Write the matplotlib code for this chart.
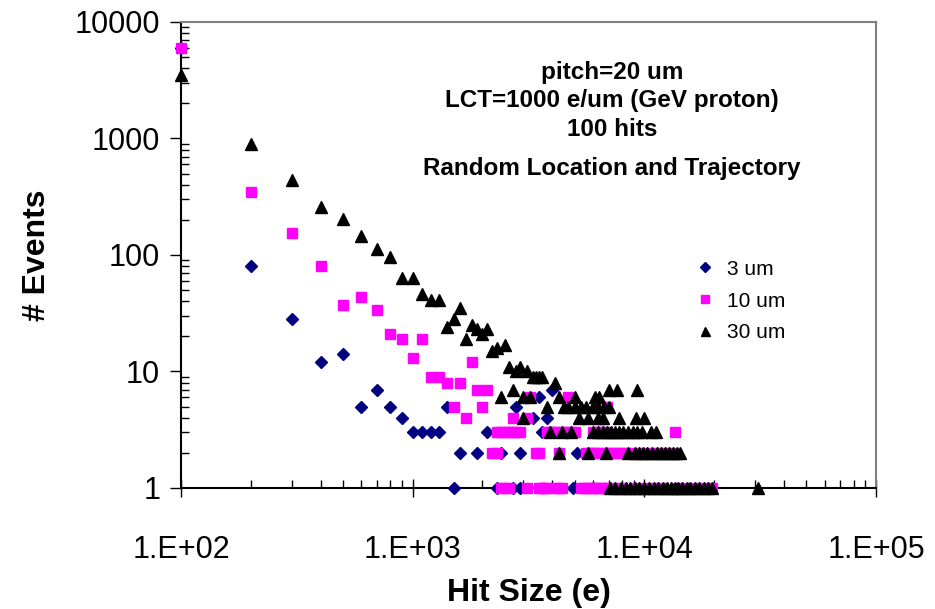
import matplotlib
matplotlib.use("Agg")
import matplotlib.pyplot as plt
from matplotlib.ticker import FixedLocator, LogLocator, NullFormatter

plt.rcParams['font.family'] = ['Liberation Sans', 'DejaVu Sans']

# 3 um pixel size (diamonds)
x_3um = [100, 200, 300, 400, 500, 600, 700, 800, 900, 1000, 1100, 1200, 1300,
         1400, 1500, 1600, 1900, 2100, 2300, 2400, 2700, 2800, 2900, 2900,
         3300, 3500, 3600, 3800, 4000, 4900, 5100]
y_3um = [6000, 80, 28, 12, 14, 5, 7, 5, 4, 3, 3, 3, 3,
         5, 1, 2, 2, 3, 1, 2, 1, 5, 2, 1,
         4, 6, 3, 4, 7, 1, 2]

# 10 um pixel size (squares)
x_10um = [100, 200, 300, 400, 500, 600, 700, 800, 900, 1000, 1100, 1200, 1300,
          1400, 1500, 1600, 1700, 1800, 1900, 2000, 2100, 2700, 3100, 3200, 4700, 6900,
          # count = 3
          2300, 2400, 2500, 2600, 2700, 2800, 2900,
          3800, 3900, 4000, 4200, 4400, 4600, 4800, 5000,
          6000, 6300, 6600, 6900, 13500,
          # count = 2
          2200, 2300, 3400, 3500, 4300, 5600, 5800, 6000, 6200, 6500, 6800,
          7100, 7400, 7700, 8000, 8300, 9000, 10000, 11000, 12000, 13000,
          # count = 1
          2400, 2500, 2600, 3100, 3500, 3600, 3700, 3800, 4100, 4300, 4400,
          5300, 5500, 5700, 5900, 6100, 6300, 6500, 6800, 7000, 7300, 8000,
          9000, 10000, 11000, 12000, 13500, 15000, 16500, 18000, 19500]
y_10um = [6000, 350, 155, 80, 37, 44, 34, 21, 19, 13, 19, 9, 9,
          8, 5, 8, 4, 12, 7, 5, 7, 4, 4, 6, 6, 5,
          3, 3, 3, 3, 3, 3, 3,
          3, 3, 3, 3, 3, 3, 3, 3,
          3, 3, 3, 3, 3,
          2, 2, 2, 2, 2, 2, 2, 2, 2, 2, 2,
          2, 2, 2, 2, 2, 2, 2, 2, 2, 2,
          1, 1, 1, 1, 1, 1, 1, 1, 1, 1, 1,
          1, 1, 1, 1, 1, 1, 1, 1, 1, 1, 1,
          1, 1, 1, 1, 1, 1, 1, 1, 1]

# 30 um pixel size (triangles)
x_30um = [100, 200, 300, 400, 500, 600, 700, 800, 900, 1000, 1100, 1200, 1300,
          1400, 1500, 1600, 1700, 1800, 1900, 2000, 2100, 2200, 2300, 2500,
          2600, 2900, 2800, 3100, 3300, 3400, 3500, 3600, 4100,
          2700, 7000, 7600, 9300,
          2400, 3000, 3200, 4300, 5000, 6100, 6400,
          3800, 4500, 4700, 5000, 5300, 5600, 6000, 6300, 6700, 7000,
          3000, 5200, 5700, 6300, 6600, 7800, 9200, 10000,
          3900, 4400, 4800, 6000, 6300, 6600, 6900, 7200, 7500, 7800, 8100,
          8500, 8900, 9300, 9800, 10700, 11200,
          4300, 5700, 6800, 8500, 9100, 9500, 9900, 10300, 10800, 11300, 11800,
          12300, 12800, 13300, 13800, 14300,
          7100, 7500, 7900, 8300, 8700, 9100, 9500, 10000, 10500, 11000, 11500,
          12000, 12500, 13000, 13500, 14000, 14600, 15200, 15800, 16500, 17200,
          18000, 18800, 19500, 31000]
y_30um = [3500, 900, 440, 260, 205, 146, 112, 96, 64, 63, 46, 41, 41,
          24, 28, 35, 19, 25, 23, 21, 23, 15, 16, 17,
          11, 11, 10, 10, 9, 9, 9, 9, 8,
          7, 7, 7, 7,
          6, 6, 6, 6, 6, 6, 6,
          5, 5, 5, 5, 5, 5, 5, 5, 5, 5,
          4, 4, 4, 4, 4, 4, 4, 4,
          3, 3, 3, 3, 3, 3, 3, 3, 3, 3, 3,
          3, 3, 3, 3, 3, 3,
          2, 2, 2, 2, 2, 2, 2, 2, 2, 2, 2,
          2, 2, 2, 2, 2,
          1, 1, 1, 1, 1, 1, 1, 1, 1, 1, 1,
          1, 1, 1, 1, 1, 1, 1, 1, 1, 1,
          1, 1, 1, 1]

fig = plt.figure(figsize=(9.35, 6.09), dpi=100)
ax = fig.add_axes([0.1936, 0.1987, 0.7434, 0.7652])

ax.plot(x_3um, y_3um, linestyle='none', marker='D', markersize=6.4,
        color='#000080', label='3 um', clip_on=False, zorder=3)
ax.plot(x_10um, y_10um, linestyle='none', marker='s', markersize=7.4,
        color='#FF00FF', label='10 um', clip_on=False, zorder=4)
ax.plot(x_30um, y_30um, linestyle='none', marker='^', markersize=9,
        color='black', label='30 um', clip_on=False, zorder=5)

ax.set_xscale('log')
ax.set_yscale('log')
ax.set_xlim(100, 100000)
ax.set_ylim(1, 10000)

ax.xaxis.set_major_locator(FixedLocator([1e2, 1e3, 1e4, 1e5]))
ax.set_xticklabels(['1.E+02', '1.E+03', '1.E+04', '1.E+05'])
ax.xaxis.set_minor_locator(LogLocator(base=10, subs=range(2, 10)))
ax.xaxis.set_minor_formatter(NullFormatter())
ax.yaxis.set_major_locator(FixedLocator([1, 10, 100, 1000, 10000]))
ax.set_yticklabels(['1', '10', '100', '1000', '10000'])
ax.yaxis.set_minor_locator(LogLocator(base=10, subs=range(2, 10)))
ax.yaxis.set_minor_formatter(NullFormatter())

ax.tick_params(axis='x', which='major', direction='inout', length=13, width=1,
               labelsize=22, pad=27)
ax.tick_params(axis='y', which='major', direction='out', length=8, width=1,
               labelsize=22, pad=7)
ax.tick_params(which='minor', direction='in', length=5.5, width=1)

for side in ['top', 'right']:
    ax.spines[side].set_color('#808080')
    ax.spines[side].set_linewidth(1.5)
for side in ['left', 'bottom']:
    ax.spines[side].set_color('black')
    ax.spines[side].set_linewidth(1.5)

ax.set_xlabel('Hit Size (e)', fontsize=23, fontweight='bold', labelpad=10)
ax.set_ylabel('# Events', fontsize=23, fontweight='bold', labelpad=16)

note_lines = ['pitch=20 um', 'LCT=1000 e/um (GeV proton)', '100 hits',
              'Random Location and Trajectory']
note_y = [72, 100, 129, 168]
for line, py in zip(note_lines, note_y):
    ax.text(612 / 935, 1 - py / 609, line, transform=fig.transFigure,
            ha='center', va='center', fontsize=17.5, fontweight='bold')

ax.legend(loc='upper left', bbox_to_anchor=(0.72, 0.508), frameon=False,
          fontsize=15, markerscale=0.72, handletextpad=0.3, labelspacing=0.62,
          borderaxespad=0, handlelength=1.5)

fig.savefig('out.png', dpi=100)
